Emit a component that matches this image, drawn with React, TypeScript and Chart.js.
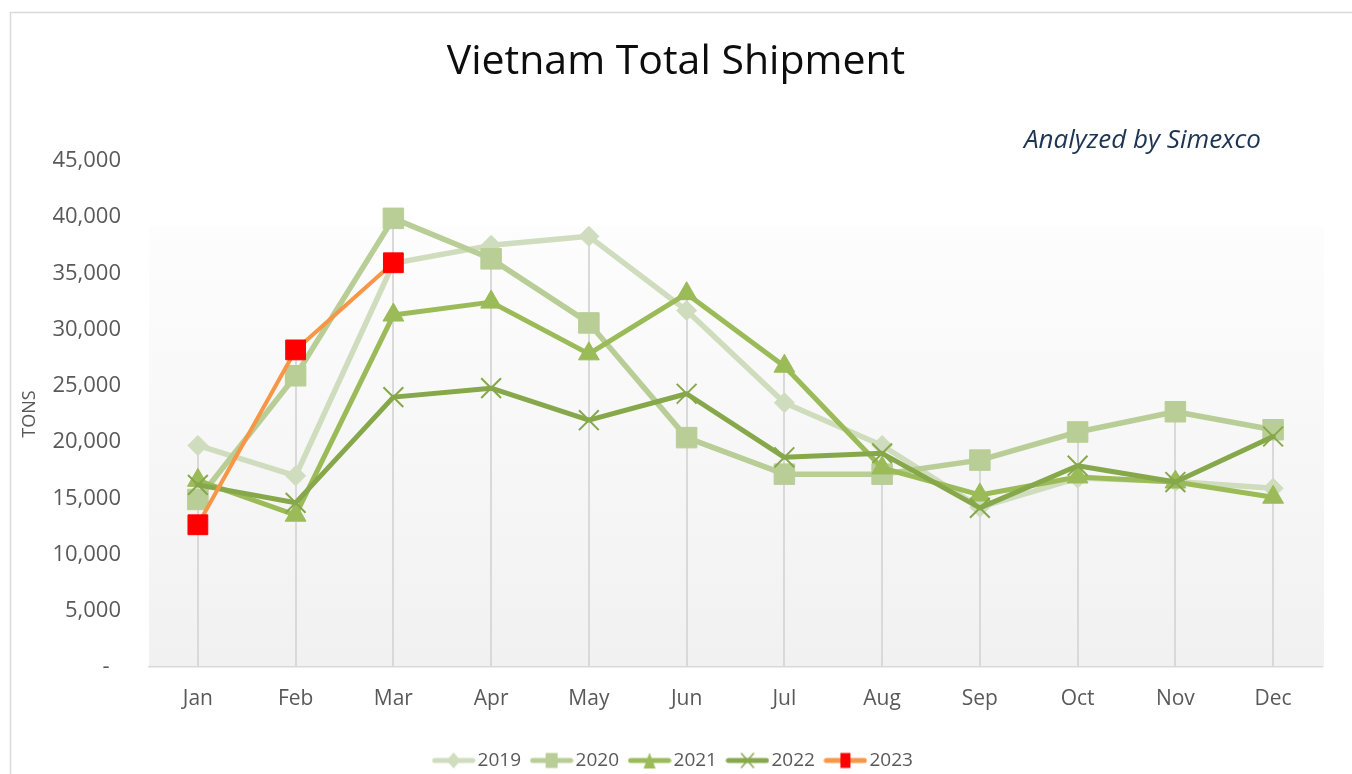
import React, { useEffect, useRef } from "react";
import { Chart, registerables } from "chart.js";

Chart.register(...registerables);

const months = ["Jan", "Feb", "Mar", "Apr", "May", "Jun", "Jul", "Aug", "Sep", "Oct", "Nov", "Dec"];
const s2019 = [19700, 17000, 35900, 37500, 38300, 31700, 23500, 19700, 14200, 16800, 16500, 15900];
const s2020 = [14900, 25900, 39900, 36300, 30600, 20400, 17150, 17150, 18400, 20900, 22700, 21100];
const s2021 = [16600, 13500, 31300, 32450, 27850, 33200, 26750, 17700, 15300, 16900, 16450, 15100];
const s2022 = [16200, 14600, 24000, 24800, 21950, 24300, 18650, 19000, 14150, 17900, 16450, 20500];
const s2023 = [12650, 28200, 35950, null, null, null, null, null, null, null, null, null];
const yTicks = [0, 5000, 10000, 15000, 20000, 25000, 30000, 35000, 40000, 45000];

const TITLE = "Vietnam Total Shipment";
const SUBTITLE = "Analyzed by Simexco";
const Y_TITLE = "TONS";

const C2019 = "#cfddbe";
const C2020 = "#b8ce96";
const C2021 = "#9bbb59";
const C2022 = "#86a84a";
const C2023L = "#f79646";
const C2023M = "#ff0000";

function legendImage(line: string, marker: string, shape: string): HTMLCanvasElement {
  const c = document.createElement("canvas");
  c.width = 44;
  c.height = 22;
  const ctx = c.getContext("2d")!;
  ctx.strokeStyle = line;
  ctx.lineWidth = 5;
  ctx.lineCap = "round";
  ctx.beginPath();
  ctx.moveTo(3, 11);
  ctx.lineTo(41, 11);
  ctx.stroke();
  ctx.fillStyle = marker;
  ctx.strokeStyle = marker;
  const cx = 22, cy = 11;
  ctx.beginPath();
  if (shape === "diamond") {
    ctx.moveTo(cx, cy - 8);
    ctx.lineTo(cx + 7, cy);
    ctx.lineTo(cx, cy + 8);
    ctx.lineTo(cx - 7, cy);
    ctx.closePath();
    ctx.fill();
  } else if (shape === "square") {
    ctx.rect(cx - 6, cy - 7.5, 12, 15);
    ctx.fill();
  } else if (shape === "redsquare") {
    ctx.rect(cx - 5, cy - 7.5, 10, 15);
    ctx.fill();
  } else if (shape === "triangle") {
    ctx.moveTo(cx, cy - 8);
    ctx.lineTo(cx + 6, cy + 8);
    ctx.lineTo(cx - 6, cy + 8);
    ctx.closePath();
    ctx.fill();
  } else if (shape === "x") {
    ctx.lineWidth = 1.5;
    ctx.moveTo(cx - 6, cy - 7);
    ctx.lineTo(cx + 6, cy + 7);
    ctx.moveTo(cx + 6, cy - 7);
    ctx.lineTo(cx - 6, cy + 7);
    ctx.stroke();
  }
  return c;
}

const decorPlugin = {
  id: "decor",
  beforeDraw(chart: any) {
    const { ctx, chartArea } = chart;
    ctx.save();
    ctx.fillStyle = "#ffffff";
    ctx.fillRect(0, 0, chart.width, chart.height);
    // frame
    ctx.strokeStyle = "#d9d9d9";
    ctx.lineWidth = 1.5;
    ctx.beginPath();
    ctx.moveTo(10.5, chart.height + 5);
    ctx.lineTo(10.5, 12.5);
    ctx.lineTo(chart.width + 5, 12.5);
    ctx.stroke();
    // plot area gradient
    const top = chartArea.top + (chartArea.bottom - chartArea.top) * 0.13;
    const g = ctx.createLinearGradient(0, top, 0, chartArea.bottom);
    g.addColorStop(0, "#fdfdfd");
    g.addColorStop(1, "#f1f1f1");
    ctx.fillStyle = g;
    ctx.fillRect(chartArea.left, top, chartArea.right - chartArea.left + 2, chartArea.bottom - top);
    ctx.restore();
  },
  beforeDatasetsDraw(chart: any) {
    const { ctx, chartArea } = chart;
    const xs = chart.scales.x;
    const ys = chart.scales.y;
    ctx.save();
    ctx.strokeStyle = "#d9d9d9";
    ctx.lineWidth = 2;
    months.forEach((_, i) => {
      let mx = -Infinity;
      chart.data.datasets.forEach((ds: any) => {
        const v = ds.data[i];
        if (v != null && v > mx) mx = v;
      });
      if (mx === -Infinity) return;
      const x = Math.round(xs.getPixelForValue(i));
      ctx.beginPath();
      ctx.moveTo(x, ys.getPixelForValue(mx));
      ctx.lineTo(x, chartArea.bottom);
      ctx.stroke();
    });
    ctx.restore();
  },
  afterDraw(chart: any) {
    const { ctx, chartArea } = chart;
    ctx.save();
    ctx.fillStyle = "#0d0d0d";
    ctx.font = "41px 'Open Sans'";
    ctx.textAlign = "center";
    ctx.textBaseline = "middle";
    ctx.fillText(TITLE, chart.width / 2, 62);
    ctx.fillStyle = "#1c3553";
    ctx.font = "italic 26px 'Open Sans'";
    ctx.textAlign = "right";
    ctx.fillText(SUBTITLE, chartArea.right - 61, 141);
    // y axis title
    ctx.fillStyle = "#595959";
    ctx.font = "18px 'Open Sans'";
    ctx.textAlign = "center";
    ctx.translate(30, (chartArea.top + chartArea.bottom) / 2);
    ctx.rotate(-Math.PI / 2);
    ctx.fillText(Y_TITLE, 0, 0);
    ctx.restore();
  },
};

export default function App() {
  const ref = useRef<HTMLCanvasElement>(null);
  useEffect(() => {
    const canvas = ref.current!;
    const mk = (label: string, data: any[], line: string, marker: string, style: string, radius: number, order: number, bw = 5, pbw = 1) => ({
      label,
      data,
      borderColor: line,
      backgroundColor: marker,
      pointBackgroundColor: marker,
      pointBorderColor: marker,
      pointBorderWidth: pbw,
      pointStyle: style,
      pointRadius: radius,
      pointHoverRadius: radius,
      borderWidth: bw,
      borderJoinStyle: "round",
      borderCapStyle: "round",
      tension: 0,
      spanGaps: false,
      order,
    });
    const imgs = [
      legendImage(C2019, C2019, "diamond"),
      legendImage(C2020, C2020, "square"),
      legendImage(C2021, C2021, "triangle"),
      legendImage(C2022, C2022, "x"),
      legendImage(C2023L, C2023M, "redsquare"),
    ];
    const chart = new Chart(canvas, {
      type: "line",
      data: {
        labels: months,
        datasets: [
          mk("2019", s2019, C2019, C2019, "rectRot", 10, 5, 5.5),
          mk("2020", s2020, C2020, C2020, "rect", 14.5, 4, 5.5),
          mk("2021", s2021, C2021, C2021, "triangle", 12, 3),
          mk("2022", s2022, C2022, C2022, "crossRot", 14, 2, 5, 2),
          mk("2023", s2023, C2023L, C2023M, "rect", 14, 1, 4, 1),
        ] as any,
      },
      options: {
        responsive: false,
        animation: false,
        events: [],
        layout: { padding: { left: 30, top: 161, right: 30, bottom: 20 } },
        plugins: {
          title: { display: false },
          tooltip: { enabled: false },
          legend: {
            position: "bottom",
            labels: {
              usePointStyle: true,
              pointStyleWidth: 29,
              padding: 16,
              color: "#595959",
              font: { family: "'Open Sans'", size: 19 },
              sort: (a: any, b: any) => a.datasetIndex - b.datasetIndex,
              generateLabels: (chart: any) =>
                chart.data.datasets.map((ds: any, i: number) => ({
                  text: ds.label,
                  datasetIndex: i,
                  pointStyle: imgs[i],
                  fillStyle: ds.borderColor,
                  strokeStyle: ds.borderColor,
                  fontColor: "#595959",
                  lineWidth: 0,
                  hidden: false,
                })),
            },
          },
        },
        scales: {
          x: {
            offset: true,
            grid: { display: false, drawTicks: false },
            border: { display: true, color: "#d9d9d9", width: 1.5 },
            ticks: {
              color: "#595959",
              font: { family: "'Open Sans'", size: 21 },
              padding: 19,
              maxRotation: 0,
              autoSkip: false,
            },
            afterFit: (s: any) => {
              s.height = 68;
            },
          },
          y: {
            min: 0,
            max: 45000,
            grid: { display: false, drawTicks: false },
            border: { display: false },
            afterBuildTicks: (s: any) => {
              s.ticks = yTicks.map((v) => ({ value: v }));
            },
            ticks: {
              color: "#595959",
              font: { family: "'Open Sans'", size: 22 },
              padding: 28,
              callback: (v: any) => (Number(v) === 0 ? "-  " : Number(v).toLocaleString("en-US")),
            },
            afterFit: (s: any) => {
              s.width = 119;
            },
          },
        },
      },
      plugins: [decorPlugin],
    });
    return () => chart.destroy();
  }, []);
  return (
    <div style={{ position: "fixed", left: 0, top: 0, width: 1352, height: 774, overflow: "hidden", background: "#fff" }}>
      <canvas ref={ref} width={1352} height={800} style={{ display: "block" }} />
    </div>
  );
}
